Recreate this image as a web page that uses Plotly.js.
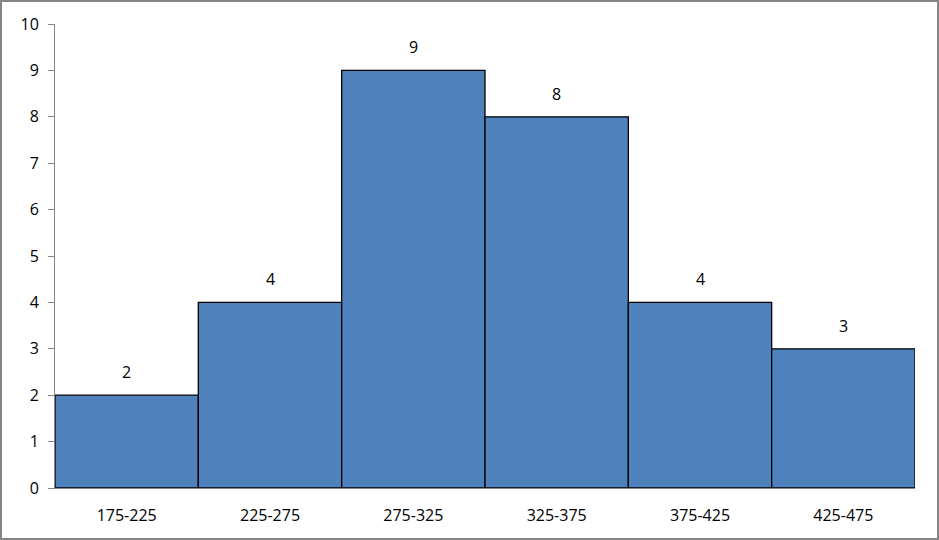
<!DOCTYPE html>
<html>
<head>
<meta charset="utf-8">
<script src="https://cdn.plot.ly/plotly-3.0.1.min.js"></script>
<style>
html,body{margin:0;padding:0;background:#fff;}
#wrap{position:relative;width:939px;height:540px;}
#chart{width:939px;height:540px;}
#frame{position:absolute;left:0;top:0;width:939px;height:540px;box-sizing:border-box;border:2px solid #868686;pointer-events:none;}
</style>
</head>
<body>
<div id="wrap"><div id="chart"></div><div id="frame"></div></div>
<script>
const categories = ["175-225","225-275","275-325","325-375","375-425","425-475"];
const counts = [2,4,9,8,4,3];
const yTicks = [0,1,2,3,4,5,6,7,8,9,10];

const font = {family: "Open Sans, Noto Sans, sans-serif", size: 16, color: "#000"};

const annotations = categories.map((c,i)=>({
  x: c, y: counts[i], xref: "x", yref: "y",
  text: String(counts[i]), showarrow: false,
  yanchor: "bottom", yshift: 10, font: font
}));

Plotly.newPlot("chart", [{
  type: "bar",
  x: categories,
  y: counts,
  marker: {color: "#4F81BD", line: {color: "#000", width: 1.3}},
  hoverinfo: "none"
}], {
  width: 939, height: 540,
  margin: {l: 55, r: 24, t: 24, b: 52},
  paper_bgcolor: "#fff", plot_bgcolor: "#fff",
  bargap: 0,
  showlegend: false,
  font: font,
  xaxis: {
    type: "category", showline: true, linecolor: "#868686", linewidth: 1,
    ticks: "", showgrid: false, zeroline: false, tickfont: font,
    ticklabelstandoff: 13
  },
  yaxis: {
    range: [0,10], tickvals: yTicks, showline: true, linecolor: "#868686", linewidth: 1,
    ticks: "outside", ticklen: 6, tickcolor: "#868686", showgrid: false, zeroline: false,
    tickfont: font, ticklabelstandoff: 6
  },
  annotations: annotations
}, {staticPlot: true});
</script>
</body>
</html>
